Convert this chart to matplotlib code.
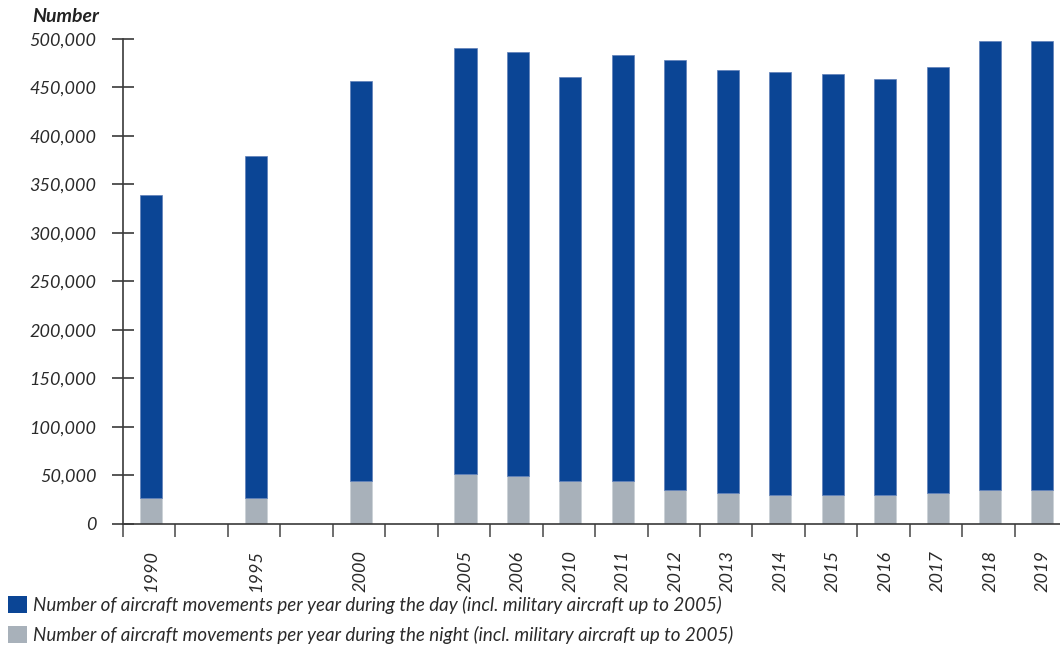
import numpy as np
import matplotlib
matplotlib.use("Agg")
import matplotlib.pyplot as plt
from matplotlib.patches import Patch
from matplotlib.ticker import FuncFormatter, FixedLocator

plt.rcParams['font.family'] = ['Lato', 'DejaVu Sans']

# ---- data (blank categories are the gaps on the axis) ----
categories = ['1990', '', '1995', '', '2000', '', '2005', '2006', '2010', '2011',
              '2012', '2013', '2014', '2015', '2016', '2017', '2018', '2019']
night = [27000, np.nan, 27000, np.nan, 44600, np.nan, 51800, 49400, 44600, 44600,
         34700, 31900, 29500, 29500, 29500, 31900, 34700, 34700]
day = [312000, np.nan, 352000, np.nan, 411400, np.nan, 439000, 436500, 416000, 438600,
       443300, 436300, 436200, 433800, 428700, 439000, 463000, 463000]
yticks = [0, 50000, 100000, 150000, 200000, 250000, 300000, 350000, 400000, 450000, 500000]
label_day = "Number of aircraft movements per year during the day (incl. military aircraft up to 2005)"
label_night = "Number of aircraft movements per year during the night (incl. military aircraft up to 2005)"

BLUE = '#0b4595'
GREY = '#a8b1ba'
AXC = '#3a3a3a'

W, H = 1060, 653
fig = plt.figure(figsize=(W / 100, H / 100), dpi=100)
ax_left, ax_right = 123 / W, 1.0
ax_bottom, ax_top = 1 - 524 / H, 1 - 38.7 / H
ax = fig.add_axes([ax_left, ax_bottom, ax_right - ax_left, ax_top - ax_bottom])

x = np.arange(len(categories))
xb = x + 0.03
night_a = np.array(night, dtype=float)
day_a = np.array(day, dtype=float)
bw = 0.42
ax.bar(xb, night_a, width=bw, color=GREY, edgecolor='#c9d0d6', linewidth=0.5)
ax.bar(xb, day_a, width=bw, bottom=night_a, color=BLUE, edgecolor='#5f7fb8', linewidth=0.5)

slot_px = 52.45
ax.set_xlim(-0.5, -0.5 + (W - 123) / slot_px)
ax.set_ylim(0, 500000)

for s in ['top', 'right']:
    ax.spines[s].set_visible(False)
for s in ['left', 'bottom']:
    ax.spines[s].set_color(AXC)
    ax.spines[s].set_linewidth(1.2)

ax.set_yticks(yticks)
ax.yaxis.set_major_formatter(FuncFormatter(lambda v, p: f"{int(v):,}"))
ax.tick_params(axis='y', direction='inout', length=16, width=1.2, color=AXC,
               pad=11, labelsize=13, labelcolor='#2a2a2a')
for lab in ax.get_yticklabels():
    lab.set_fontstyle('italic')

ax.set_xticks(xb)
ax.set_xticklabels(categories, rotation=90, fontstyle='italic', fontsize=13,
                   color='#2a2a2a')
ax.tick_params(axis='x', which='major', length=0, pad=19)
ax.xaxis.set_minor_locator(FixedLocator(np.arange(-0.5, len(categories) - 0.5, 1.0)))
ax.tick_params(axis='x', which='minor', direction='out', length=9, width=1.2, color='#555555')

fig.text(99 / W, 1 - 17 / H, 'Number', ha='right', va='center', fontsize=14,
         fontweight='bold', fontstyle='italic', color='#222222')

handles = [Patch(facecolor=BLUE, edgecolor='none', label=label_day),
           Patch(facecolor=GREY, edgecolor='none', label=label_night)]
leg = fig.legend(handles=handles, loc='upper left', bbox_to_anchor=(8 / W, 1 - 596 / H),
                 frameon=False, fontsize=13.5, handlelength=1.0, handleheight=1.0,
                 handletextpad=0.35, labelspacing=0.62, borderaxespad=0, borderpad=0.0)
for t in leg.get_texts():
    t.set_fontstyle('italic')
    t.set_color('#2a2a2a')

fig.savefig('out.png', dpi=100)
